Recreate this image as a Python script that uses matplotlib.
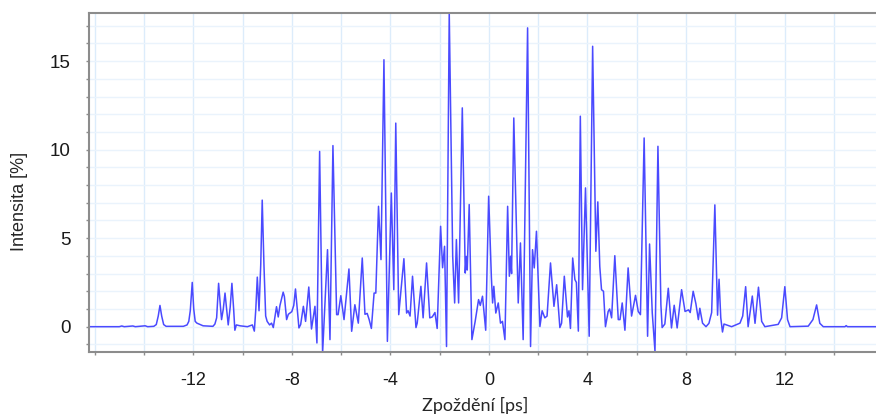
import numpy as np
import matplotlib
matplotlib.use("Agg")
import matplotlib.pyplot as plt
from matplotlib.ticker import MultipleLocator, FixedLocator

plt.rcParams["axes.unicode_minus"] = False  # v predloze obycejny spojovnik "-12"

# zpozdeni [ps] a intenzita [%] - body (vrcholy a minima)
zpozdeni = [
    -16.3, -15.0, -14.9, -14.8, -14.45, -14.35, -13.95, -13.85, -13.6, -13.5,
    -13.42, -13.35, -13.28, -13.2, -13.1, -12.4, -12.25, -12.18, -12.12, -12.04,
    -11.98, -11.92, -11.85, -11.6, -11.2, -11.12, -11.05, -10.97, -10.9, -10.85,
    -10.78, -10.71, -10.64, -10.58, -10.5, -10.43, -10.36, -10.31, -10.25, -10.1,
    -9.8, -9.6, -9.52, -9.46, -9.40, -9.33, -9.26, -9.2, -9.13, -9.06,
    -9.0, -8.9, -8.82, -8.75, -8.68, -8.62, -8.55, -8.48, -8.35, -8.3,
    -8.21, -8.14, -8.0, -7.92, -7.85, -7.78, -7.71, -7.64, -7.53, -7.44,
    -7.31, -7.2, -7.06, -6.98, -6.87, -6.75, -6.55, -6.45, -6.33, -6.18,
    -6.12, -6.01, -5.88, -5.68, -5.57, -5.44, -5.3, -5.14, -5.03, -4.94,
    -4.86, -4.77, -4.66, -4.59, -4.48, -4.38, -4.26, -4.12, -3.96, -3.86,
    -3.78, -3.66, -3.45, -3.34, -3.28, -3.2, -3.1, -2.96, -2.91, -2.76,
    -2.67, -2.53, -2.4, -2.3, -2.19, -2.1, -1.96, -1.88, -1.8, -1.72,
    -1.61, -1.47, -1.39, -1.32, -1.23, -1.08, -0.96, -0.92, -0.88, -0.8,
    -0.69, -0.56, -0.42, -0.35, -0.26, -0.13, -0.01, 0.1, 0.15, 0.2,
    0.28, 0.38, 0.47, 0.55, 0.65, 0.76, 0.83, 0.88, 0.92, 1.01,
    1.19, 1.28, 1.39, 1.57, 1.69, 1.77, 1.84, 1.93, 2.07, 2.16,
    2.27, 2.36, 2.5, 2.64, 2.75, 2.88, 2.95, 3.06, 3.19, 3.25,
    3.31, 3.4, 3.49, 3.55, 3.63, 3.71, 3.8, 3.92, 4.07, 4.21,
    4.34, 4.42, 4.5, 4.57, 4.65, 4.73, 4.84, 4.9, 4.98, 5.11,
    5.25, 5.32, 5.41, 5.52, 5.65, 5.79, 5.95, 6.06, 6.15, 6.3,
    6.44, 6.52, 6.63, 6.74, 6.86, 6.98, 7.03, 7.14, 7.28, 7.41,
    7.52, 7.64, 7.82, 7.96, 8.1, 8.17, 8.29, 8.4, 8.5, 8.56,
    8.67, 8.81, 8.93, 9.04, 9.17, 9.28, 9.34, 9.41, 9.48, 9.54,
    9.85, 10.19, 10.3, 10.42, 10.52, 10.69, 10.8, 10.94, 11.07, 11.2,
    11.74, 11.88, 12.01, 12.12, 12.22, 12.96, 13.15, 13.3, 13.43, 13.57,
    14.45, 14.5, 14.55, 15.8,
]
intenzita = [
    0.0, 0.0, 0.04, 0.0, 0.04, 0.0, 0.05, 0.0, 0.02, 0.12,
    0.6, 1.2, 0.6, 0.12, 0.02, 0.02, 0.1, 0.3, 0.9, 2.5,
    1.0, 0.3, 0.2, 0.05, 0.02, 0.15, 0.5, 2.45, 1.2, 0.4,
    1.0, 1.9, 0.9, 0.1, 1.1, 2.45, 1.0, -0.2, 0.1, 0.05,
    0.0, 0.1, -0.25, 1.0, 2.8, 0.9, 3.5, 7.15, 3.5, 0.6,
    0.3, 0.1, 0.2, -0.05, 0.6, 1.13, 0.55, 1.2, 1.95, 1.7,
    0.4, 0.7, 0.85, 1.2, 2.13, 1.0, -0.07, 0.12, 1.15, 0.3,
    2.24, -0.13, 1.15, -0.92, 9.9, -1.5, 4.35, -0.73, 10.23, 0.68,
    0.68, 1.75, 0.4, 3.26, -0.26, 1.24, 0.2, 3.88, 0.7, 0.75,
    0.4, -0.1, 1.9, 1.9, 6.8, 3.79, 15.08, -0.83, 7.55, 2.09,
    11.5, 0.68, 3.84, 0.77, 0.9, 0.6, 2.85, -0.05, 0.2, 2.28,
    0.5, 3.6, 0.5, 0.55, 0.8, -0.1, 5.67, 3.33, 4.54, -1.12,
    17.75, 4.0, 1.34, 4.92, 1.34, 12.36, 3.03, 3.97, 3.2, 6.9,
    -0.73, 0.28, 1.53, 1.2, 1.72, -0.2, 7.37, 2.8, 1.34, 2.28,
    0.77, 1.34, 0.2, 0.3, -0.73, 6.8, 2.85, 3.98, 3.0, 11.79,
    1.34, 4.73, -0.73, 16.88, -1.12, 4.35, 3.32, 5.39, 0.01, 0.9,
    0.5, 0.6, 3.6, 1.15, 2.37, -0.05, 0.2, 2.85, 0.55, 0.9,
    -0.1, 3.88, 2.66, 2.5, -0.25, 11.89, 2.09, 7.84, -0.54, 15.84,
    4.26, 7.05, 3.4, 2.09, 2.0, 0.0, 0.86, 1.0, 0.5, 4.01,
    0.4, 0.4, 1.34, -0.2, 3.32, 0.6, 1.77, 0.86, 0.68, 10.66,
    -0.54, 4.67, 0.77, -1.39, 10.19, 1.24, -0.05, 0.15, 2.17, -0.07,
    1.21, -0.07, 2.09, 0.86, 0.95, 0.8, 2.0, 1.3, 0.4, 1.04,
    0.2, 0.0, 0.19, 0.8, 6.88, 0.65, 2.68, 0.5, -0.3, 0.15,
    0.0, 0.2, 0.6, 2.26, 0.0, 1.73, 0.19, 2.23, 0.3, 0.0,
    0.13, 0.5, 2.26, 0.4, 0.0, 0.03, 0.4, 1.23, 0.19, 0.0,
    0.0, 0.06, 0.0, 0.0,
]

x_popisky = [-12, -8, -4, 0, 4, 8, 12]
y_popisky = [0, 5, 10, 15]

W, H = 876, 416
fig = plt.figure(figsize=(W / 100, H / 100), dpi=100)
# osa presne podle pixelu v predloze
ax = fig.add_axes([89 / W, 1 - 352 / H, 1 - 89 / W, (352 - 13) / H])

ax.plot(zpozdeni, intenzita, color="#4a4aff", lw=1.1, clip_on=True)

ax.set_xlim(-16.23, 15.71)
ax.set_ylim(-1.43, 17.72)

# mrizka - svisle kazde 2 ps, vodorovne po 1 %
ax.xaxis.set_major_locator(FixedLocator(x_popisky))
ax.xaxis.set_minor_locator(MultipleLocator(2))
ax.yaxis.set_major_locator(FixedLocator(y_popisky))
ax.yaxis.set_minor_locator(MultipleLocator(1))
ax.grid(which="both", axis="x", color="#dcecfb", lw=1.0)
ax.grid(which="both", axis="y", color="#eaf3fc", lw=1.0)
ax.set_axisbelow(True)

for s in ["top", "left", "bottom"]:
    ax.spines[s].set_color("#8c8c8c")
    ax.spines[s].set_linewidth(1.5)
ax.spines["right"].set_visible(False)

ax.tick_params(which="both", color="#8c8c8c", length=2.5, width=1, direction="out")
ax.tick_params(axis="y", which="major", pad=10.5, labelsize=13.5, labelcolor="#1a1a1a")
ax.tick_params(axis="x", which="major", pad=12, labelsize=13, labelcolor="#1a1a1a")
for t in ax.get_xticklabels() + ax.get_yticklabels():
    t.set_fontfamily("Liberation Sans")

ax.set_xlabel("Zpoždění [ps]", fontfamily="Lato", fontsize=13, color="#262626", va="center")
ax.xaxis.set_label_coords((475 - 89) / 787, (352 - 405) / 339)
ax.set_ylabel("Intensita [%]", fontfamily="Liberation Sans", fontsize=13, color="#262626", va="center")
ax.yaxis.set_label_coords((20 - 89) / 787, (352 - 201) / 339)

fig.savefig("out.png", dpi=100)
